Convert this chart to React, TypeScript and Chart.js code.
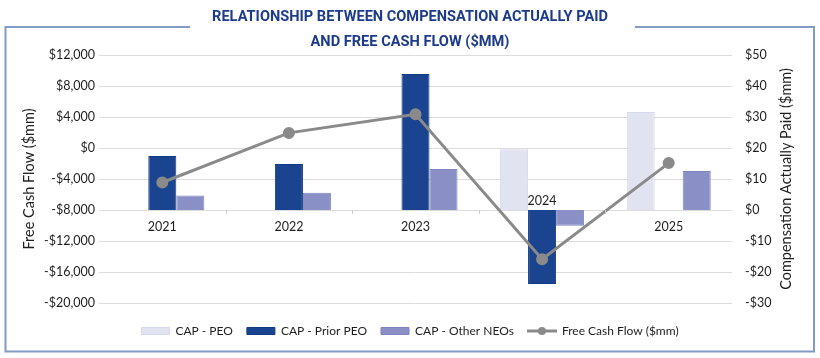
import React, { useEffect, useRef } from 'react';
import { Chart, registerables } from 'chart.js';

Chart.register(...registerables);

// ---- data ----
const years = ['2021', '2022', '2023', '2024', '2025'];
const capPeo: (number | null)[] = [null, null, null, 19.6, 31.6];
const capPriorPeo: (number | null)[] = [17.4, 14.8, 43.9, -23.9, null];
const capOtherNeos: (number | null)[] = [4.7, 5.6, 13.2, -5.1, 12.6];
const freeCashFlow: number[] = [-4450, 1950, 4350, -14350, -1950];

const fcfMin = -20000;
const fcfMax = 12000;
const fcfStep = 4000;
const capMin = -30;
const capMax = 50;
const capStep = 10;

const titleLines = ['RELATIONSHIP BETWEEN COMPENSATION ACTUALLY PAID', 'AND FREE CASH FLOW ($MM)'];
const leftTitle = 'Free Cash Flow ($mm)';
const rightTitle = 'Compensation Actually Paid ($mm)';
const seriesNames = ['CAP - PEO', 'CAP - Prior PEO', 'CAP - Other NEOs', 'Free Cash Flow ($mm)'];

// ---- styles ----
const FONT = 'Lato, "Open Sans", sans-serif';
const TEXT = '#1e1e1e';
const TITLE_COLOR = '#1d3b8b';
const FRAME_COLOR = '#7f9bc6';
const C_PEO = '#e1e3f1';
const C_PRIOR = '#1a4490';
const C_OTHER = '#8a8fc6';
const C_LINE = '#8a8a8a';
const TITLE_SIZE = 14.6;

const money = (v: number) => (v < 0 ? '-' : '') + '$' + Math.abs(v).toLocaleString('en-US');

const decorPlugin = {
  id: 'decor',
  beforeDraw(chart: any) {
    const ctx = chart.ctx;
    ctx.save();
    ctx.font = 'bold ' + TITLE_SIZE + 'px Roboto';
    const w = ctx.measureText(titleLines[0]).width;
    const cx = chart.width / 2;
    const gl = cx - w / 2 - 22;
    const gr = cx + w / 2 + 27;
    const L = 5.5, T = 27, R = 814, B = 351.5;
    ctx.strokeStyle = FRAME_COLOR;
    ctx.lineWidth = 2;
    ctx.beginPath();
    ctx.moveTo(gl, T);
    ctx.lineTo(L, T);
    ctx.lineTo(L, B);
    ctx.lineTo(R, B);
    ctx.lineTo(R, T);
    ctx.lineTo(gr, T);
    ctx.stroke();
    ctx.restore();
  },
  afterDraw(chart: any) {
    const ctx = chart.ctx;
    const xs = chart.scales.x;
    const ys = chart.scales.y1;
    const y0 = ys.getPixelForValue(0);
    const area = chart.chartArea;
    ctx.save();
    // category boundary ticks
    ctx.strokeStyle = '#c9c9c9';
    ctx.lineWidth = 1;
    for (let i = 0; i < years.length - 1; i++) {
      const bx = Math.round((xs.getPixelForValue(i) + xs.getPixelForValue(i + 1)) / 2) + 0.5;
      ctx.beginPath();
      ctx.moveTo(bx, y0);
      ctx.lineTo(bx, y0 + 4);
      ctx.stroke();
    }
    // category labels
    ctx.fillStyle = TEXT;
    ctx.font = '12.5px ' + FONT;
    ctx.textAlign = 'center';
    ctx.textBaseline = 'middle';
    years.forEach((yr, i) => {
      const vals = [capPeo[i], capPriorPeo[i], capOtherNeos[i]].filter((v) => v !== null) as number[];
      const neg = Math.min(...vals) < 0;
      ctx.fillText(yr, xs.getPixelForValue(i), neg ? y0 - 9 : y0 + 17);
    });
    // right axis title (reads bottom to top)
    ctx.font = '14.5px ' + FONT;
    ctx.translate(786, (area.top + area.bottom) / 2);
    ctx.rotate(-Math.PI / 2);
    ctx.fillText(rightTitle, 0, 0);
    ctx.restore();
  },
};

function makeLineLegendImage() {
  const c = document.createElement('canvas');
  c.width = 30;
  c.height = 12;
  const g = c.getContext('2d')!;
  g.strokeStyle = C_LINE;
  g.lineWidth = 3;
  g.beginPath();
  g.moveTo(0, 6);
  g.lineTo(30, 6);
  g.stroke();
  g.fillStyle = C_LINE;
  g.beginPath();
  g.arc(15, 6, 4, 0, Math.PI * 2);
  g.fill();
  return c;
}

export default function App() {
  const ref = useRef<HTMLCanvasElement>(null);

  useEffect(() => {
    if (!ref.current) return;
    const lineImg = makeLineLegendImage();
    const chart = new Chart(ref.current, {
      type: 'bar',
      data: {
        labels: years,
        datasets: [
          {
            label: seriesNames[0],
            data: capPeo,
            yAxisID: 'y1',
            backgroundColor: C_PEO,
            borderColor: '#d6d9ec',
            borderWidth: 1,
            order: 1,
          },
          {
            label: seriesNames[1],
            data: capPriorPeo,
            yAxisID: 'y1',
            backgroundColor: C_PRIOR,
            borderColor: '#123a84',
            borderWidth: 1,
            order: 1,
          },
          {
            label: seriesNames[2],
            data: capOtherNeos,
            yAxisID: 'y1',
            backgroundColor: C_OTHER,
            borderColor: '#7e84c0',
            borderWidth: 1,
            order: 1,
          },
          {
            type: 'line',
            label: seriesNames[3],
            data: freeCashFlow,
            yAxisID: 'y',
            borderColor: C_LINE,
            backgroundColor: C_LINE,
            borderWidth: 3,
            pointRadius: 4.5,
            pointBackgroundColor: C_LINE,
            pointBorderColor: C_LINE,
            tension: 0,
            order: 0,
          } as any,
        ],
      },
      options: {
        animation: false,
        responsive: false,
        maintainAspectRatio: false,
        layout: { padding: { left: 0, right: 0, top: 0, bottom: 11 } },
        datasets: {
          bar: { categoryPercentage: 0.664, barPercentage: 1 },
        },
        plugins: {
          title: {
            display: true,
            text: titleLines,
            color: TITLE_COLOR,
            font: { family: 'Roboto', size: TITLE_SIZE, weight: 'bold', lineHeight: 25 / TITLE_SIZE },
            padding: { top: 5, bottom: 0 },
          },
          legend: {
            display: true,
            position: 'bottom',
            labels: {
              usePointStyle: true,
              pointStyleWidth: 28,
              boxHeight: 7,
              padding: 14,
              color: TEXT,
              font: { family: FONT, size: 12 },
              generateLabels(c: any) {
                const items = Chart.defaults.plugins.legend.labels.generateLabels(c);
                items.sort((a: any, b: any) => a.datasetIndex - b.datasetIndex);
                items.forEach((it: any) => {
                  const ds: any = c.data.datasets[it.datasetIndex];
                  it.pointStyle = ds.type === 'line' ? lineImg : 'rect';
                });
                return items;
              },
            },
          },
          tooltip: { enabled: false },
        },
        scales: {
          x: {
            display: true,
            grid: { display: false, drawTicks: false },
            border: { display: false },
            ticks: { display: false },
            afterFit: (s: any) => {
              s.height = 8;
            },
          },
          y: {
            position: 'left',
            min: fcfMin,
            max: fcfMax,
            grid: { color: '#dcdcdc', drawTicks: false },
            border: { display: false },
            ticks: {
              stepSize: fcfStep,
              padding: 4,
              color: TEXT,
              font: { family: FONT, size: 12.5 },
              callback: (v: any) => money(Number(v)),
            },
            title: {
              display: true,
              text: leftTitle,
              color: TEXT,
              font: { family: FONT, size: 14.5 },
              padding: { top: 21, bottom: 0 },
            },
            afterFit: (s: any) => {
              s.width = 99;
            },
          },
          y1: {
            position: 'right',
            min: capMin,
            max: capMax,
            grid: { display: false, drawTicks: false },
            border: { display: false },
            ticks: {
              stepSize: capStep,
              padding: 13,
              color: TEXT,
              font: { family: FONT, size: 12.5 },
              callback: (v: any) => money(Number(v)),
            },
            title: { display: false, text: rightTitle },
            afterFit: (s: any) => {
              s.width = 88;
            },
          },
        },
      } as any,
      plugins: [decorPlugin],
    });
    return () => chart.destroy();
  }, []);

  return (
    <div style={{ position: 'absolute', left: 0, top: 0, width: 820, height: 358, background: '#fff' }}>
      <canvas ref={ref} width={820} height={358} style={{ display: 'block', width: 820, height: 358 }} />
    </div>
  );
}
